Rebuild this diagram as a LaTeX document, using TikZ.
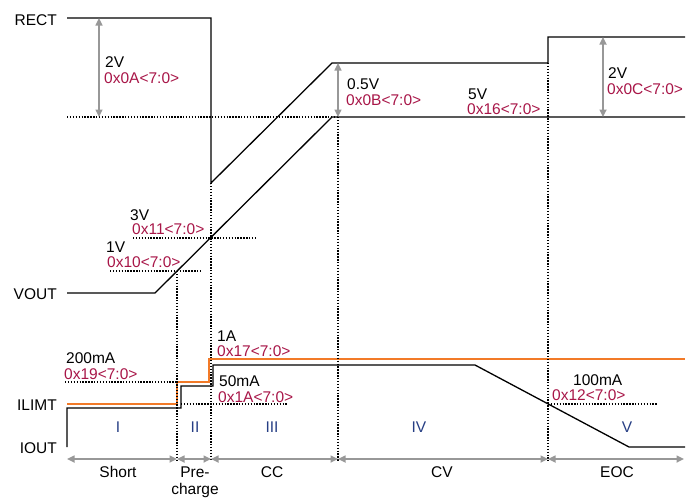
\documentclass[tikz,border=0pt]{standalone}
\usepackage{fontspec}
\setmainfont{Liberation Sans}
\usetikzlibrary{arrows.meta}

\definecolor{hexred}{RGB}{168,22,72}
\definecolor{zoneblue}{RGB}{38,62,132}
\definecolor{limorange}{RGB}{242,122,40}
\definecolor{arrgray}{RGB}{152,152,152}

\begin{document}
\begin{tikzpicture}[
                    x=1pt, y=-1pt,
                    >={Triangle[length=7.5pt,width=7pt]},
                    every node/.style={inner sep=0pt,font=\fontsize{15.5}{17}\selectfont},
                    sig/.style={anchor=base east},
                    val/.style={anchor=base west},
                    hex/.style={anchor=base west,text=hexred},
                    zone/.style={anchor=base,text=zoneblue},
                    phase/.style={anchor=base},
                    wave/.style={line width=1.3pt,black},
                    ilim/.style={line width=1.5pt,limorange},
                    guide/.style={line width=1.1pt,dash pattern=on 1.4pt off 1.5pt},
                    dimarrow/.style={<->,line width=1.6pt,arrgray}
                ]
                \useasboundingbox (0,0) rectangle (695,499);

                % signal names
                \node[sig] (rect) at (57,25) {RECT};
                \node[sig] (vout) at (57,299) {VOUT};
                \node[sig] (ilimt) at (57,410) {ILIMT};
                \node[sig] (iout) at (57,453) {IOUT};

                % phase boundaries
                \coordinate (t0) at (67,459);
                \coordinate (t1) at (177,459);
                \coordinate (t2) at (211,459);
                \coordinate (t3) at (338,459);
                \coordinate (t4) at (548,459);
                \coordinate (t5) at (684,459);

                % RECT
                \coordinate (r0) at (67,18);
                \coordinate (r1) at (211,18);
                \coordinate (r2) at (211,183);
                \coordinate (r3) at (332,63);
                \coordinate (r4) at (548,63);
                \coordinate (r5) at (548,37);
                \coordinate (r6) at (685,37);
                \draw[wave] (r0) -- (r1) -- (r2) -- (r3) -- (r4) -- (r5) -- (r6);

                % VOUT
                \coordinate (v0) at (67,293);
                \coordinate (v1) at (155,293);
                \coordinate (v2) at (332,117);
                \coordinate (v3) at (685,117);
                \draw[wave] (v0) -- (v1) -- (v2) -- (v3);

                % ILIMT
                \coordinate (l0) at (67,404);
                \coordinate (l1) at (177,404);
                \coordinate (l2) at (177,382);
                \coordinate (l3) at (209,382);
                \coordinate (l4) at (209,359);
                \coordinate (l5) at (685,359);
                \draw[ilim] (l0) -- (l1) -- (l2) -- (l3) -- (l4) -- (l5);

                % IOUT
                \coordinate (i0) at (67,447);
                \coordinate (i1) at (67,408);
                \coordinate (i2) at (181,408);
                \coordinate (i3) at (181,386);
                \coordinate (i4) at (213,386);
                \coordinate (i5) at (213,365);
                \coordinate (i6) at (475,365);
                \coordinate (i7) at (629,447);
                \coordinate (i8) at (685,447);
                \draw[wave] (i0) -- (i1) -- (i2) -- (i3) -- (i4) -- (i5) -- (i6) -- (i7) -- (i8);

                % dotted guides
                \coordinate (g0) at (67,117);
                \coordinate (g1) at (338,117);
                \coordinate (g2) at (177,271);
                \draw[guide] (g0) -- (g1);
                \draw[guide] (r2) -- ([yshift=-2pt]t2);
                \draw[guide] (g2) -- ([yshift=-2pt]t1);
                \draw[guide] (g1) -- ([yshift=-2pt]t3);
                \draw[guide] (r4) -- ([yshift=-2pt]t4);
                \draw[guide] (133,238) -- (255,238);
                \draw[guide] (110,271) -- (200,271);
                \draw[guide] (65,382) -- (l2);
                \draw[guide] (181,404) -- (287,404);
                \draw[guide] (548,404) -- (658,404);

                % level differences
                \draw[dimarrow] (99,18) -- (99,117);
                \draw[dimarrow] (338,63) -- (g1);
                \draw[dimarrow] (603,37) -- (603,117);

                % phase arrows
                \draw[dimarrow] (t0) -- (t1);
                \draw[dimarrow] (t1) -- (t2);
                \draw[dimarrow] (t2) -- (t3);
                \draw[dimarrow] (t3) -- (t4);
                \draw[dimarrow] (t4) -- (t5);

                % register values
                \node[val] (v2v) at (105,67) {2V};
                \node[hex] (h0A) at (104,83) {0x0A<7:0>};
                \node[val] (v05) at (347,89) {0.5V};
                \node[hex] (h0B) at (346,105) {0x0B<7:0>};
                \node[val] (v5v) at (468,99) {5V};
                \node[hex] (h16) at (467,114) {0x16<7:0>};
                \node[val] (v2c) at (608,78) {2V};
                \node[hex] (h0C) at (607,94) {0x0C<7:0>};
                \node[val] (v3v) at (130,220) {3V};
                \node[hex] (h11) at (132,234) {0x11<7:0>};
                \node[val] (v1v) at (106,252) {1V};
                \node[hex] (h10) at (107,267) {0x10<7:0>};
                \node[val] (a200) at (66,363) {200mA};
                \node[hex] (h19) at (64,379) {0x19<7:0>};
                \node[val] (a1) at (217,341) {1A};
                \node[hex] (h17) at (217,356) {0x17<7:0>};
                \node[val] (a50) at (219,386) {50mA};
                \node[hex] (h1A) at (218,402) {0x1A<7:0>};
                \node[val] (a100) at (573,385) {100mA};
                \node[hex] (h12) at (552,400) {0x12<7:0>};

                % zones
                \node[zone] (zI) at (118,432) {I};
                \node[zone] (zII) at (195,432) {II};
                \node[zone] (zIII) at (272,432) {III};
                \node[zone] (zIV) at (419,432) {IV};
                \node[zone] (zV) at (627,432) {V};

                % phase names
                \node[phase] (short) at (118,477) {Short};
                \node[phase] (pre) at (195,477) {Pre-};
                \node[phase] (charge) at (195,494) {charge};
                \node[phase] (cc) at (272,477) {CC};
                \node[phase] (cv) at (442,477) {CV};
                \node[phase] (eoc) at (617,477) {EOC};

            \end{tikzpicture}
\end{document}
